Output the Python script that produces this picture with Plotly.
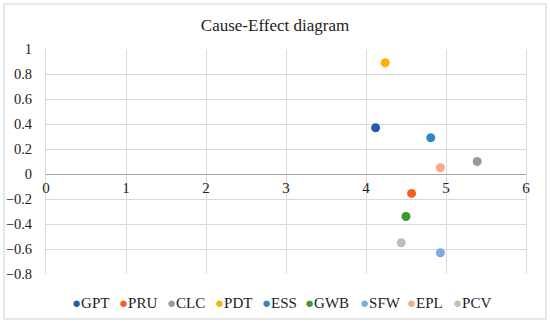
import plotly.graph_objects as go

names = ["GPT", "PRU", "CLC", "PDT", "ESS", "GWB", "SFW", "EPL", "PCV"]
cause = [4.12, 4.57, 5.39, 4.24, 4.81, 4.50, 4.93, 4.93, 4.44]
effect = [0.37, -0.155, 0.10, 0.89, 0.29, -0.34, -0.63, 0.05, -0.55]
colors = ["#1F5FAA", "#F4631E", "#9A9A9A", "#FFB000", "#2D88C8", "#3A9A2E",
          "#7EA9E1", "#F8A98A", "#BDBDBD"]
legend_px = [70, 117, 165, 213, 260, 303, 358, 405, 451]

y_ticks = [-0.8, -0.6, -0.4, -0.2, 0, 0.2, 0.4, 0.6, 0.8, 1]
y_text = ["\u22120.8", "\u22120.6", "\u22120.4", "\u22120.2", "0", "0.2", "0.4", "0.6", "0.8", "1"]
x_ticks = [0, 1, 2, 3, 4, 5, 6]

FONT = "'Liberation Serif', 'Times New Roman', serif"
L, R, T, B = 46, 24, 49, 49
PW, PH = 550 - L - R, 323 - T - B

fig = go.Figure()
for n, x, y, c in zip(names, cause, effect, colors):
    fig.add_trace(go.Scatter(x=[x], y=[y], mode="markers", name=n,
                             marker=dict(size=9, color=c)))

annotations = []
for n, c, px in zip(names, colors, legend_px):
    annotations.append(dict(
        text=f"<span style='color:{c}'>\u25CF</span>{n}",
        xref="paper", yref="paper", x=(px - L) / PW, y=(323 - B - 303) / PH,
        xanchor="left", yanchor="middle", showarrow=False,
        font=dict(family=FONT, size=15, color="#222")))

y0 = 0.8 / 1.8
fig.update_layout(
    width=550, height=323,
    margin=dict(l=L, r=R, t=T, b=B),
    paper_bgcolor="white", plot_bgcolor="white",
    font=dict(family=FONT, size=15, color="#222"),
    title=dict(text="Cause-Effect diagram", x=0.5, xanchor="center",
               y=1 - 25 / 323, yanchor="middle", font=dict(family=FONT, size=17, color="#222")),
    xaxis=dict(range=[0, 6], tickvals=x_ticks, ticktext=[str(v) for v in x_ticks],
               showgrid=True, gridcolor="#D9D9D9",
               zeroline=False, showline=False, anchor="free", position=y0,
               ticks="", ticklabelstandoff=3,
               tickfont=dict(family=FONT, size=15, color="#222"),
               automargin=False),
    yaxis=dict(range=[-0.8, 1], tickvals=y_ticks, ticktext=y_text, showgrid=True,
               gridcolor="#D9D9D9", zeroline=True, zerolinecolor="#A6A6A6", zerolinewidth=1,
               showline=True, linecolor="#D9D9D9", mirror=True, ticks="",
               ticklabelstandoff=10,
               tickfont=dict(family=FONT, size=14.5, color="#222"), automargin=False),
    showlegend=False,
    annotations=annotations,
    shapes=[dict(type="rect", xref="paper", yref="paper",
                 x0=(4 - L) / PW, x1=(546 - L) / PW,
                 y0=(323 - B - 319) / PH, y1=(323 - B - 4) / PH,
                 line=dict(color="#D0D0D0", width=1), layer="below")],
)
fig.write_html("out.html", config={"displayModeBar": False},
               post_script="document.body.style.margin='0';")
